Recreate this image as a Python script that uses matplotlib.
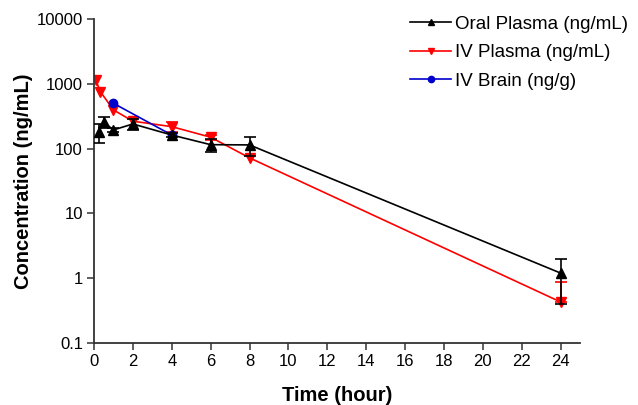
import matplotlib
matplotlib.use("Agg")
import matplotlib.pyplot as plt
from matplotlib.lines import Line2D
import numpy as np

plt.rcParams['font.family'] = ['Liberation Sans', 'DejaVu Sans']

# Data
oral_t = [0.25, 0.5, 1, 2, 4, 6, 8, 24]
oral_c = [180, 257, 194, 240, 162, 115, 114, 1.2]
oral_err = [60, 50, 15, 45, 10, 25, 37, 0.8]

iv_t = [0.083, 0.33, 1, 2, 4, 6, 8, 24]
iv_c = [1150, 755, 395, 265, 218, 150, 72, 0.43]
iv_err_low = [0, 0, 0, 0, 35, 12, 0, 0]
iv_err_up = [0, 0, 0, 0, 35, 12, 0, 0.45]

brain_t = [1, 4]
brain_c = [500, 162]

labels = ["Oral Plasma (ng/mL)", "IV Plasma (ng/mL)", "IV Brain (ng/g)"]
xticks = [0, 2, 4, 6, 8, 10, 12, 14, 16, 18, 20, 22, 24]
yticks = [0.1, 1, 10, 100, 1000, 10000]
ytick_labels = ["0.1", "1", "10", "100", "1000", "10000"]

RED = '#ff0000'
BLUE = '#0000cc'
BLACK = '#000000'

fig = plt.figure(figsize=(6.38, 4.05), dpi=100)
ax = fig.add_axes([94/638, 62/405, (580-94)/638, (343-19)/405])

# IV plasma
iv_idx = [i for i in range(len(iv_t)) if iv_err_low[i] > 0 or iv_err_up[i] > 0]
ax.errorbar([iv_t[i] for i in iv_idx], [iv_c[i] for i in iv_idx],
            yerr=[[iv_err_low[i] for i in iv_idx], [iv_err_up[i] for i in iv_idx]],
            fmt='none', ecolor=RED, capsize=4, elinewidth=1.2, capthick=1.2, zorder=2)
ax.plot(iv_t, iv_c, color=RED, marker='v', ms=6.8, lw=1.2, zorder=2)

# IV brain
ax.plot(brain_t, brain_c, color=BLUE, marker='o', ms=6, lw=1.2, zorder=3)

# Oral plasma
ax.errorbar(oral_t, oral_c, yerr=oral_err, fmt='none', ecolor=BLACK, capsize=4,
            elinewidth=1.2, capthick=1.2, zorder=4)
ax.plot(oral_t, oral_c, color=BLACK, marker='^', ms=6.8, lw=1.2, zorder=4)

ax.set_yscale('log')
ax.set_xlim(0, 25)
ax.set_ylim(0.1, 10000)
ax.set_xticks(xticks)
ax.set_xticklabels([str(x) for x in xticks])
ax.set_yticks(yticks)
ax.set_yticklabels(ytick_labels)
ax.yaxis.set_minor_locator(matplotlib.ticker.NullLocator())
ax.tick_params(axis='both', direction='out', length=5, width=1.1, labelsize=12,
               color='#333333', pad=3)

for s in ['top', 'right']:
    ax.spines[s].set_visible(False)
for s in ['left', 'bottom']:
    ax.spines[s].set_color('#333333')
    ax.spines[s].set_linewidth(1.3)

ax.set_xlabel("Time (hour)", fontsize=14.5, fontweight='bold', labelpad=12)
ax.set_ylabel("Concentration (ng/mL)", fontsize=14.5, fontweight='bold')
ax.yaxis.set_label_coords(-0.126, 0.5)

handles = [
    Line2D([], [], color=BLACK, marker='^', ms=5, lw=1.2),
    Line2D([], [], color=RED, marker='v', ms=5, lw=1.2),
    Line2D([], [], color=BLUE, marker='o', ms=4.5, lw=1.2),
]
leg = fig.legend(handles, labels, loc='upper right',
                 bbox_to_anchor=(0.993, 0.975), frameon=False, fontsize=13.5,
                 handlelength=2.2, handletextpad=0.2, labelspacing=0.6,
                 borderpad=0.3, borderaxespad=0.0)

fig.savefig("out.png", dpi=100)
